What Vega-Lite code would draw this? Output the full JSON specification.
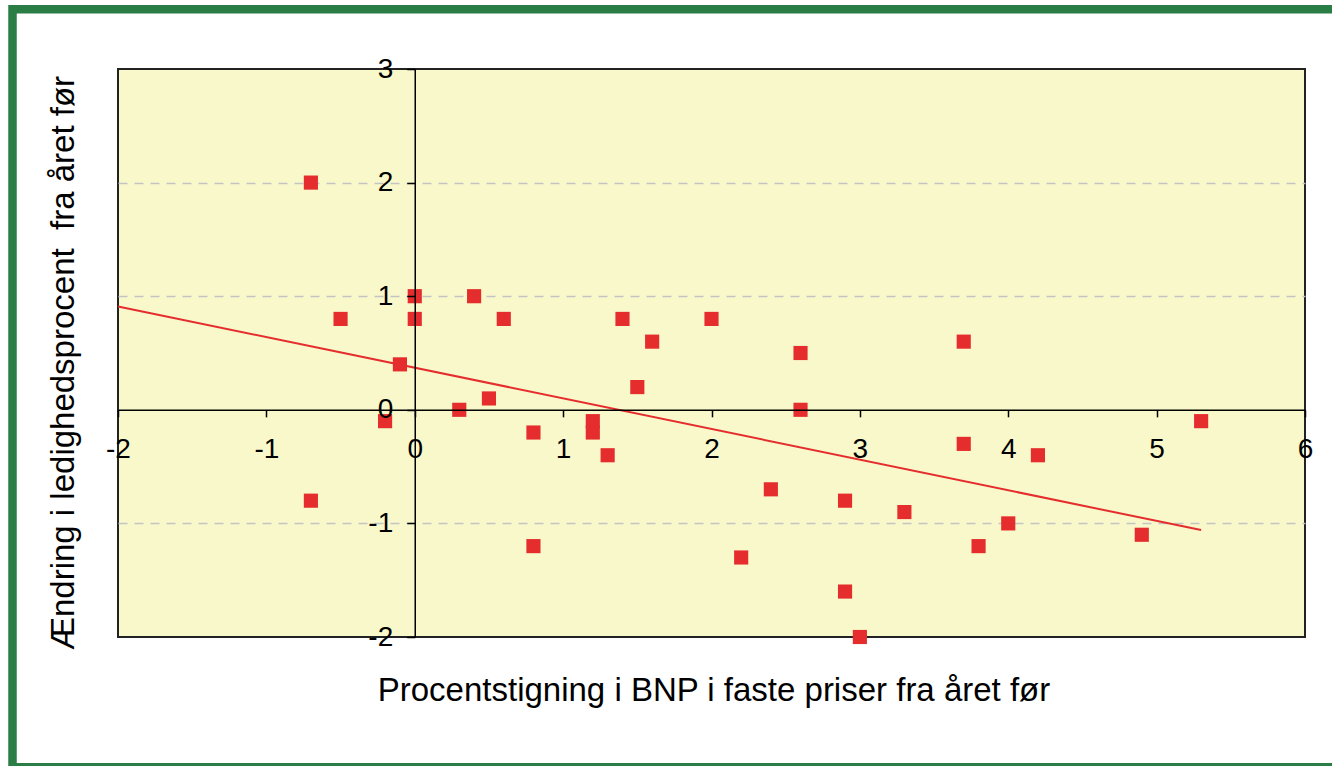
{
  "$schema": "https://vega.github.io/schema/vega-lite/v6.json",
  "width": 1187,
  "height": 568,
  "autosize": {"type": "none"},
  "padding": {"left": 118, "top": 69, "right": 27, "bottom": 129},
  "background": "white",
  "config": {
    "font": "Liberation Sans",
    "view": {"fill": "#F8F8CB", "stroke": "#222222", "strokeWidth": 2}
  },
  "data": {
    "values": [
      {"bnp": -0.7, "ledighed": 2.0},
      {"bnp": -0.7, "ledighed": -0.8},
      {"bnp": -0.5, "ledighed": 0.8},
      {"bnp": -0.1, "ledighed": 0.4},
      {"bnp": -0.2, "ledighed": -0.1},
      {"bnp": 0.0, "ledighed": 1.0},
      {"bnp": 0.0, "ledighed": 0.8},
      {"bnp": 0.4, "ledighed": 1.0},
      {"bnp": 0.6, "ledighed": 0.8},
      {"bnp": 0.3, "ledighed": 0.0},
      {"bnp": 0.5, "ledighed": 0.1},
      {"bnp": 0.8, "ledighed": -0.2},
      {"bnp": 1.2, "ledighed": -0.1},
      {"bnp": 1.2, "ledighed": -0.2},
      {"bnp": 1.3, "ledighed": -0.4},
      {"bnp": 1.4, "ledighed": 0.8},
      {"bnp": 1.6, "ledighed": 0.6},
      {"bnp": 1.5, "ledighed": 0.2},
      {"bnp": 2.0, "ledighed": 0.8},
      {"bnp": 2.6, "ledighed": 0.5},
      {"bnp": 2.6, "ledighed": 0.0},
      {"bnp": 3.7, "ledighed": 0.6},
      {"bnp": 3.7, "ledighed": -0.3},
      {"bnp": 4.2, "ledighed": -0.4},
      {"bnp": 5.3, "ledighed": -0.1},
      {"bnp": 4.9, "ledighed": -1.1},
      {"bnp": 4.0, "ledighed": -1.0},
      {"bnp": 3.8, "ledighed": -1.2},
      {"bnp": 3.3, "ledighed": -0.9},
      {"bnp": 2.9, "ledighed": -0.8},
      {"bnp": 2.4, "ledighed": -0.7},
      {"bnp": 2.2, "ledighed": -1.3},
      {"bnp": 2.9, "ledighed": -1.6},
      {"bnp": 3.0, "ledighed": -2.0},
      {"bnp": 0.8, "ledighed": -1.2}
    ]
  },
  "resolve": {"axis": {"y": "independent"}},
  "layer": [
    {
      "data": {"values": [{}]},
      "mark": {"type": "rect", "fill": null, "stroke": "#2B7D46", "strokeWidth": 8.5, "clip": false},
      "encoding": {
        "x": {"datum": -2.711, "type": "quantitative", "scale": {"domain": [-2, 6], "nice": false, "zero": false}},
        "x2": {"datum": 6.27},
        "y": {"datum": 3.526, "type": "quantitative", "scale": {"domain": [-2, 3], "nice": false, "zero": false}, "axis": null},
        "y2": {"datum": -3.146}
      }
    },
    {
      "transform": [{"regression": "ledighed", "on": "bnp", "extent": [-2, 5.3]}],
      "mark": {"type": "line", "color": "#E52D2D", "strokeWidth": 2},
      "encoding": {
        "x": {"field": "bnp", "type": "quantitative", "scale": {"domain": [-2, 6], "nice": false, "zero": false}},
        "y": {
          "field": "ledighed", "type": "quantitative",
          "scale": {"domain": [-2, 3], "nice": false, "zero": false},
          "axis": {
            "orient": "left", "values": [-1, 1, 2],
            "grid": true, "gridColor": "#C4C4C4", "gridDash": [9, 7], "gridWidth": 1.5,
            "labels": false, "ticks": false, "domain": false, "title": null, "zindex": 0
          }
        }
      }
    },
    {
      "mark": {"type": "square", "size": 200, "color": "#E52D2D", "opacity": 1, "filled": true},
      "encoding": {
        "x": {
          "field": "bnp", "type": "quantitative",
          "scale": {"domain": [-2, 6], "nice": false, "zero": false},
          "axis": {
            "orient": "bottom", "offset": -227.2,
            "values": [-2, -1, 0, 1, 2, 3, 4, 5, 6],
            "labelExpr": "datum.value + ''",
            "grid": false,
            "domainColor": "#000000", "domainWidth": 1.5,
            "tickColor": "#000000", "tickWidth": 1.5, "tickSize": 7,
            "labelPadding": 19, "labelFontSize": 28, "labelColor": "#000000",
            "labelFlush": false, "labelOverlap": false, "labelFont": "Liberation Sans",
            "title": "Procentstigning i BNP i faste priser fra året før",
            "titleFont": "Liberation Sans", "titleFontSize": 33, "titleFontWeight": "normal", "titleColor": "#000000",
            "titleX": 595.5, "titleY": 290.2, "titleBaseline": "alphabetic", "titleAlign": "center",
            "zindex": 1
          }
        },
        "y": {
          "field": "ledighed", "type": "quantitative",
          "scale": {"domain": [-2, 3], "nice": false, "zero": false},
          "axis": {
            "orient": "left", "offset": -296.75,
            "values": [-2, -1, 0, 1, 2, 3],
            "labelExpr": "datum.value + ''",
            "grid": false,
            "domainColor": "#000000", "domainWidth": 1.5,
            "tickColor": "#000000", "tickWidth": 1.5, "tickSize": 8,
            "labelPadding": 14, "labelFontSize": 28, "labelColor": "#000000",
            "labelFlush": false, "labelOverlap": false, "labelFont": "Liberation Sans", "labelBaseline": "middle",
            "title": "Ændring i ledighedsprocent\u00a0 fra året før",
            "titleFont": "Liberation Sans", "titleFontSize": 33, "titleFontWeight": "normal", "titleColor": "#000000",
            "titleAngle": 270, "titleX": -341.75, "titleY": 293.5, "titleBaseline": "alphabetic", "titleAlign": "center",
            "zindex": 1
          }
        }
      }
    }
  ]
}
